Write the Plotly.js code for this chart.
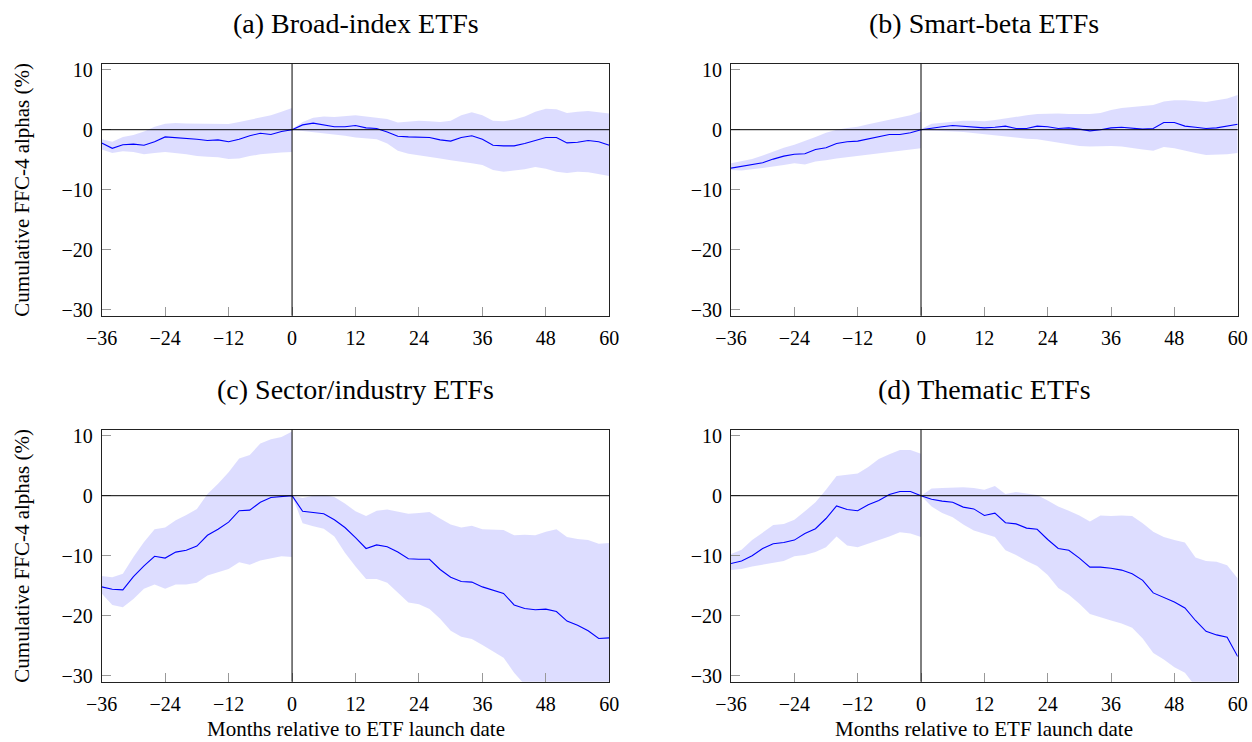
<!DOCTYPE html>
<html>
<head>
<meta charset="utf-8">
<script src="https://cdn.plot.ly/plotly-3.0.1.min.js"></script>
<style>html,body{margin:0;padding:0;background:#fff;}#chart{width:1252px;height:742px;}</style>
</head>
<body>
<div id="chart"></div>
<script>
// Months relative to launch (0 appears twice: end of pre-launch band, start of post-launch band)
const months = [-36,-34,-32,-30,-28,-26,-24,-22,-20,-18,-16,-14,-12,-10,-8,-6,-4,-2,0,
                0,2,4,6,8,10,12,14,16,18,20,22,24,26,28,30,32,34,36,38,40,42,44,46,48,50,52,54,56,58,60];

const panelTitles = ["(a) Broad-index ETFs","(b) Smart-beta ETFs","(c) Sector/industry ETFs","(d) Thematic ETFs"];
const yTitle = "Cumulative FFC-4 alphas (%)";
const xTitle = "Months relative to ETF launch date";
const xTicks = [-36,-24,-12,0,12,24,36,48,60];
const yTicks = [-30,-20,-10,0,10];

// (a) Broad-index
const aAlpha = [-2.2,-3.1,-2.5,-2.4,-2.6,-2.0,-1.2,-1.3,-1.5,-1.6,-1.8,-1.7,-2.0,-1.6,-1.0,-0.6,-0.8,-0.3,0,
                0,0.8,1.1,0.8,0.5,0.5,0.7,0.3,0.2,-0.4,-1.1,-1.2,-1.3,-1.3,-1.7,-1.9,-1.3,-1.0,-1.6,-2.6,-2.7,-2.7,-2.3,-1.8,-1.3,-1.3,-2.2,-2.1,-1.8,-2.0,-2.6];
const aUpper = [-1.6,-2.0,-1.2,-0.9,-0.3,0.5,1.0,1.1,1.05,1.05,1.05,1.0,0.95,1.3,1.7,2.1,2.4,3.0,3.6,
                0.1,1.3,2.0,2.2,2.1,2.3,2.4,2.2,2.0,1.8,1.2,1.4,1.5,1.4,1.3,1.5,2.4,2.9,2.4,1.5,1.4,1.7,2.2,3.0,3.5,3.4,2.8,3.0,3.1,2.9,2.7];
const aLower = [-3.3,-3.9,-3.6,-3.7,-4.1,-3.9,-3.7,-3.9,-4.1,-4.4,-4.5,-4.6,-4.9,-4.8,-4.4,-4.1,-3.9,-3.8,-3.7,
                -0.1,-0.2,-0.3,-0.6,-0.8,-1.0,-1.3,-1.5,-1.6,-2.3,-3.5,-4.0,-4.3,-4.5,-4.8,-5.1,-5.4,-5.6,-5.9,-6.7,-7.0,-6.8,-6.6,-6.2,-6.5,-7.0,-7.2,-7.0,-7.1,-7.4,-7.7];

// (b) Smart-beta
const bAlpha = [-6.4,-6.1,-5.8,-5.5,-4.9,-4.4,-4.1,-4.0,-3.3,-3.0,-2.3,-2.0,-1.9,-1.5,-1.1,-0.8,-0.8,-0.5,0,
                0,0.3,0.5,0.7,0.6,0.4,0.3,0.4,0.6,0.2,0.2,0.6,0.5,0.2,0.3,0.1,-0.2,0.0,0.3,0.4,0.2,0.1,0.2,1.2,1.2,0.6,0.4,0.2,0.3,0.6,0.9];
const bUpper = [-5.6,-5.3,-4.9,-4.3,-3.6,-3.0,-2.5,-1.9,-1.2,-0.5,0.0,0.3,0.5,0.9,1.3,1.6,2.1,2.4,3.0,
                0.1,1.0,1.2,1.4,1.5,1.5,1.4,1.6,1.9,2.2,2.4,2.6,2.7,2.7,2.6,2.6,2.6,2.8,3.3,3.6,3.8,4.0,4.1,4.7,4.9,4.9,4.7,4.6,4.9,5.2,5.8];
const bLower = [-6.7,-6.8,-6.6,-6.4,-6.2,-5.9,-5.6,-5.8,-5.3,-5.1,-4.8,-4.6,-4.3,-4.1,-3.9,-3.7,-3.5,-3.3,-3.1,
                -0.1,-0.1,-0.2,-0.3,-0.4,-0.6,-0.7,-0.9,-1.1,-1.3,-1.5,-1.6,-1.8,-2.1,-2.4,-2.7,-2.8,-2.8,-2.7,-2.8,-3.0,-3.3,-3.5,-2.9,-3.1,-3.5,-3.9,-4.2,-4.2,-4.1,-3.9];

// (c) Sector/industry
const cAlpha = [-15.2,-15.6,-15.7,-13.5,-11.7,-10.1,-10.4,-9.4,-9.1,-8.4,-6.6,-5.6,-4.4,-2.5,-2.4,-1.1,-0.3,-0.2,0,
                0,-2.6,-2.8,-3.0,-4.0,-5.3,-7.0,-8.8,-8.2,-8.5,-9.4,-10.5,-10.6,-10.6,-12.3,-13.6,-14.3,-14.4,-15.2,-15.8,-16.3,-18.2,-18.8,-19.0,-18.9,-19.3,-20.9,-21.6,-22.5,-23.8,-23.7];
const cUpper = [-13.4,-13.6,-13.0,-10.2,-7.7,-5.6,-5.3,-4.1,-3.2,-2.2,0.3,2.0,3.9,6.2,6.8,8.7,9.4,9.8,10.7,
                0,-0.4,0.0,0.1,-0.2,-1.3,-2.6,-3.4,-2.5,-2.3,-2.6,-3.0,-2.9,-2.7,-3.8,-4.8,-5.3,-5.0,-5.6,-5.6,-5.7,-6.6,-6.5,-6.6,-6.0,-5.6,-6.9,-7.2,-7.4,-8.0,-7.9];
const cLower = [-16.3,-18.2,-18.6,-17.2,-15.5,-14.8,-15.5,-14.8,-14.8,-14.5,-13.3,-12.7,-12.2,-11.1,-11.5,-10.8,-10.5,-10.1,-10.2,
                0,-4.6,-5.1,-5.5,-6.8,-9.5,-11.8,-13.9,-13.9,-14.5,-16.1,-17.8,-18.1,-18.9,-20.5,-22.5,-23.5,-23.9,-24.9,-25.9,-27.0,-29.5,-31.5,-33.0,-34.0,-35.0,-36.0,-37.0,-38.0,-39.0,-40.0];

// (d) Thematic
const dAlpha = [-11.3,-10.9,-10.0,-8.8,-8.0,-7.8,-7.4,-6.3,-5.5,-3.8,-1.7,-2.3,-2.5,-1.5,-0.8,0.2,0.7,0.7,0,
                0,-0.6,-0.9,-1.1,-1.9,-2.2,-3.3,-2.9,-4.5,-4.7,-5.4,-5.6,-7.3,-8.8,-9.1,-10.4,-11.9,-11.9,-12.1,-12.4,-13.0,-14.1,-16.2,-16.9,-17.7,-18.7,-20.8,-22.6,-23.2,-23.6,-26.8];
const dUpper = [-9.7,-9.0,-7.4,-6.2,-4.9,-4.7,-4.0,-2.6,-1.1,1.0,3.3,3.5,3.7,4.8,6.1,6.9,7.6,7.6,7.0,
                0,1.2,1.3,1.4,1.4,1.3,1.0,1.6,0.3,0.6,0.3,0.1,-0.8,-1.8,-2.5,-3.3,-4.3,-3.3,-3.4,-3.3,-3.4,-4.6,-6.0,-6.9,-7.4,-7.8,-10.3,-10.9,-11.0,-11.6,-13.8];
const dLower = [-12.4,-12.2,-11.8,-11.4,-11.2,-10.9,-10.1,-9.9,-9.4,-8.6,-6.8,-8.3,-8.6,-8.0,-7.4,-6.8,-6.1,-6.3,-6.9,
                0,-1.8,-2.9,-3.6,-4.8,-5.8,-6.4,-6.9,-9.1,-9.9,-10.9,-11.7,-13.2,-15.4,-16.5,-18.0,-19.7,-20.2,-20.8,-21.3,-22.0,-23.8,-26.2,-27.3,-28.6,-29.5,-31.8,-33.0,-34.0,-35.0,-37.0];

const panels = [
  {alpha:aAlpha, up:aUpper, lo:aLower},
  {alpha:bAlpha, up:bUpper, lo:bLower},
  {alpha:cAlpha, up:cUpper, lo:cLower},
  {alpha:dAlpha, up:dUpper, lo:dLower}
];

const W = 1252, H = 742;
const FONT = "Liberation Serif, Times New Roman, serif";
const px = v => v / W;
const py = v => 1 - v / H;

// plot-area pixel boxes
const colX = [[101.7, 609.3], [731, 1237.7]];
const rowY = [[63.7, 315.7], [429.7, 681.7]];

const traces = [];
const layout = {
  width: W, height: H,
  margin: {l:0, r:0, t:0, b:0},
  paper_bgcolor: '#fff', plot_bgcolor: '#fff',
  showlegend: false,
  font: {family: FONT, color: '#000', size: 20},
  annotations: [],
  shapes: []
};

panels.forEach((p, i) => {
  const col = i % 2, row = Math.floor(i / 2);
  const xa = i === 0 ? 'x' : 'x' + (i + 1);
  const ya = i === 0 ? 'y' : 'y' + (i + 1);
  // confidence band polygon
  const bx = months.concat(months.slice().reverse());
  const by = p.up.concat(p.lo.slice().reverse());
  traces.push({
    x: bx, y: by, xaxis: xa, yaxis: ya, type: 'scatter', mode: 'lines',
    fill: 'toself', fillcolor: 'rgba(0,0,255,0.135)', line: {width: 0, color: 'rgba(0,0,0,0)'},
    hoverinfo: 'skip'
  });
  traces.push({
    x: months, y: p.alpha, xaxis: xa, yaxis: ya, type: 'scatter', mode: 'lines',
    line: {color: '#0000ff', width: 1.1}
  });
  const axBase = {
    showline: true, linecolor: '#222', linewidth: 1, mirror: true,
    ticks: 'inside', ticklen: 9, tickcolor: '#999', tickwidth: 1,
    showgrid: false, zeroline: false,
    tickfont: {family: FONT, size: 20, color: '#000'},
    fixedrange: true
  };
  layout['xaxis' + (i === 0 ? '' : i + 1)] = Object.assign({}, axBase, {
    domain: [px(colX[col][0]), px(colX[col][1])],
    anchor: ya, range: [-36, 60], tickvals: xTicks, ticktext: xTicks.map(v => v < 0 ? '\u2212' + (-v) : String(v)),
    ticklabelstandoff: 4
  });
  layout['yaxis' + (i === 0 ? '' : i + 1)] = Object.assign({}, axBase, {
    domain: [py(rowY[row][1]), py(rowY[row][0])],
    anchor: xa, range: [-31, 11], tickvals: yTicks, ticktext: yTicks.map(v => v < 0 ? '\u2212' + (-v) : String(v)),
    ticklabelstandoff: 4
  });
  // reference lines at launch month and zero alpha, drawn above the band
  layout.shapes.push({type: 'line', xref: xa, yref: ya + ' domain', x0: 0, x1: 0, y0: 0, y1: 1,
                      line: {color: '#000', width: 1}, layer: 'above'});
  layout.shapes.push({type: 'line', xref: xa + ' domain', yref: ya, x0: 0, x1: 1, y0: 0, y1: 0,
                      line: {color: '#000', width: 1}, layer: 'above'});
  // panel title
  layout.annotations.push({
    text: panelTitles[i], xref: 'paper', yref: 'paper', showarrow: false,
    x: px((colX[col][0] + colX[col][1]) / 2), y: py(rowY[row][0] - 40),
    xanchor: 'center', yanchor: 'middle', font: {family: FONT, size: 28, color: '#000'}
  });
  if (col === 0) {
    layout.annotations.push({
      text: yTitle, xref: 'paper', yref: 'paper', showarrow: false, textangle: -90,
      x: px(22), y: py((rowY[row][0] + rowY[row][1]) / 2),
      xanchor: 'center', yanchor: 'middle', font: {family: FONT, size: 21, color: '#000'}
    });
  }
  if (row === 1) {
    layout.annotations.push({
      text: xTitle, xref: 'paper', yref: 'paper', showarrow: false, borderpad: 0,
      x: px((colX[col][0] + colX[col][1]) / 2), y: 0,
      xanchor: 'center', yanchor: 'bottom', font: {family: FONT, size: 21, color: '#000'}
    });
  }
});

Plotly.newPlot('chart', traces, layout, {staticPlot: true, displayModeBar: false});
</script>
</body>
</html>
